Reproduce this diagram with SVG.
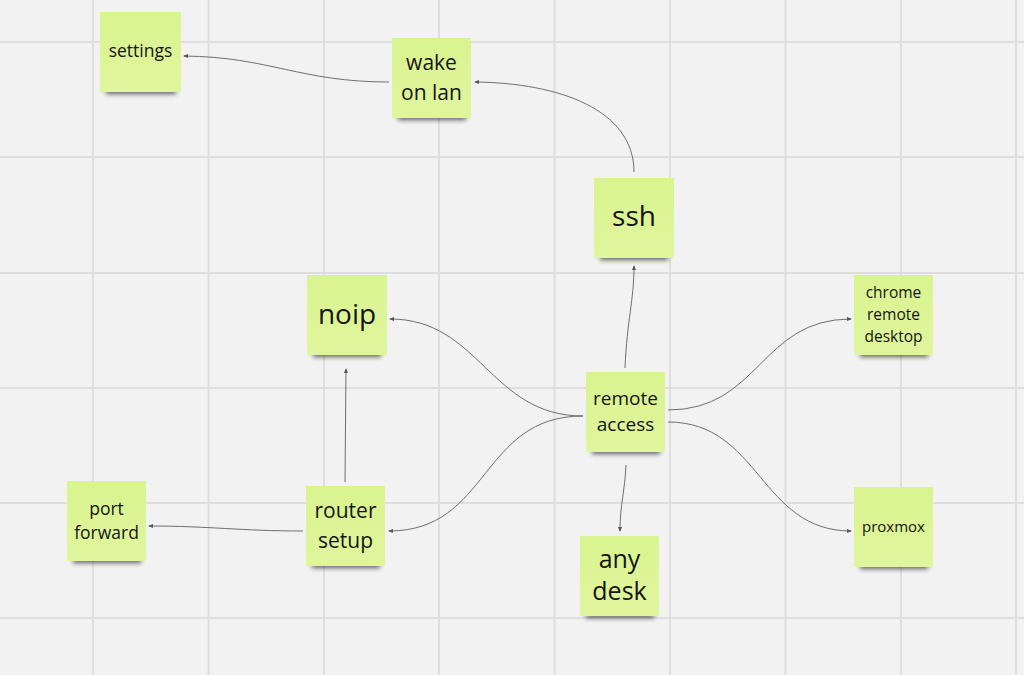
<svg xmlns="http://www.w3.org/2000/svg" width="1024" height="675" viewBox="0 0 1024 675">
<defs>
<style>
.grid line{stroke:#dedede;stroke-width:2}
.note{fill:url(#ng)}
.sh{fill:#000;opacity:0.6;filter:url(#blur)}
.t{font-family:"Open Sans","Noto Sans","Liberation Sans",sans-serif;fill:#141414;text-anchor:middle}
.c path{fill:none;stroke:#6e6e6e;stroke-width:1;marker-end:url(#ah)}
</style>
<linearGradient id="ng" x1="0" y1="0" x2="0" y2="1">
<stop offset="0" stop-color="#d9f48f"/>
<stop offset="1" stop-color="#e0f59d"/>
</linearGradient>
<filter id="blur" x="-20%" y="-50%" width="140%" height="200%"><feGaussianBlur stdDeviation="2.5"/></filter>
<marker id="ah" viewBox="0 0 6 6" refX="5" refY="3" markerWidth="5" markerHeight="5" orient="auto" markerUnits="userSpaceOnUse">
<path d="M0,0.5 L6,3 L0,5.5 z" fill="#555"/>
</marker>
</defs>
<rect width="1024" height="675" fill="#f2f2f2"/>
<g class="grid">
<line x1="93" y1="0" x2="93" y2="675"/>
<line x1="208.5" y1="0" x2="208.5" y2="675"/>
<line x1="324" y1="0" x2="324" y2="675"/>
<line x1="439" y1="0" x2="439" y2="675"/>
<line x1="554.5" y1="0" x2="554.5" y2="675"/>
<line x1="670" y1="0" x2="670" y2="675"/>
<line x1="785.5" y1="0" x2="785.5" y2="675"/>
<line x1="901" y1="0" x2="901" y2="675"/>
<line x1="1016" y1="0" x2="1016" y2="675"/>
<line x1="0" y1="42" x2="1024" y2="42"/>
<line x1="0" y1="157" x2="1024" y2="157"/>
<line x1="0" y1="273" x2="1024" y2="273"/>
<line x1="0" y1="388" x2="1024" y2="388"/>
<line x1="0" y1="503" x2="1024" y2="503"/>
<line x1="0" y1="618" x2="1024" y2="618"/>
</g>
<g class="c" id="connectors">
<path d="M389,82 C300,82 270,57 184,56"/>
<path d="M634,172 C634,110 560,83 475,82"/>
<path d="M625,368 C627,320 634,300 634,266"/>
<path d="M583,416 C490,416 480,319 390,319"/>
<path d="M583,416 C480,416 490,531 389,531"/>
<path d="M345,482 L346,369"/>
<path d="M303,531 C240,531 210,526 149,526"/>
<path d="M626,465 C625,490 620,505 620,531"/>
<path d="M668,410 C760,410 760,319 851,319"/>
<path d="M668,422 C760,422 760,531 851,531"/>
</g>
<g id="n-settings">
<rect class="sh" x="106" y="82" width="70" height="12"/>
<rect class="note" x="100" y="12" width="81" height="80"/>
<text class="t" x="140.5" y="57" font-size="17.5">settings</text>
</g>
<g id="n-wake">
<rect class="sh" x="398" y="108" width="68" height="12"/>
<rect class="note" x="392" y="38" width="79" height="80"/>
<text class="t" x="431.5" y="70" font-size="21">wake</text>
<text class="t" x="431.5" y="100" font-size="21">on lan</text>
</g>
<g id="n-ssh">
<rect class="sh" x="600" y="248" width="68" height="12"/>
<rect class="note" x="594" y="178" width="80" height="80"/>
<text class="t" x="634" y="226" font-size="28">ssh</text>
</g>
<g id="n-noip">
<rect class="sh" x="313" y="345" width="68" height="12"/>
<rect class="note" x="307" y="275" width="80" height="80"/>
<text class="t" x="347" y="324" font-size="28">noip</text>
</g>
<g id="n-chrome">
<rect class="sh" x="860" y="345" width="68" height="12"/>
<rect class="note" x="854" y="275" width="79" height="80"/>
<text class="t" x="893.5" y="298" font-size="15.5">chrome</text>
<text class="t" x="893.5" y="320" font-size="15.5">remote</text>
<text class="t" x="893.5" y="342" font-size="15.5">desktop</text>
</g>
<g id="n-remote">
<rect class="sh" x="592" y="442" width="68" height="12"/>
<rect class="note" x="586" y="372" width="79" height="80"/>
<text class="t" x="625.5" y="405" font-size="19">remote</text>
<text class="t" x="625.5" y="431" font-size="19">access</text>
</g>
<g id="n-router">
<rect class="sh" x="312" y="556" width="68" height="12"/>
<rect class="note" x="306" y="486" width="79" height="80"/>
<text class="t" x="345.5" y="518" font-size="21">router</text>
<text class="t" x="345.5" y="548" font-size="21">setup</text>
</g>
<g id="n-port">
<rect class="sh" x="73" y="551" width="68" height="12"/>
<rect class="note" x="67" y="481" width="79" height="80"/>
<text class="t" x="106.5" y="515" font-size="17.5">port</text>
<text class="t" x="106.5" y="539" font-size="17.5">forward</text>
</g>
<g id="n-anydesk">
<rect class="sh" x="586" y="606" width="68" height="12"/>
<rect class="note" x="580" y="536" width="79" height="80"/>
<text class="t" x="619.5" y="568" font-size="25">any</text>
<text class="t" x="619.5" y="600" font-size="25">desk</text>
</g>
<g id="n-proxmox">
<rect class="sh" x="860" y="557" width="68" height="12"/>
<rect class="note" x="854" y="487" width="79" height="80"/>
<text class="t" x="893.5" y="532" font-size="15">proxmox</text>
</g>
</svg>
